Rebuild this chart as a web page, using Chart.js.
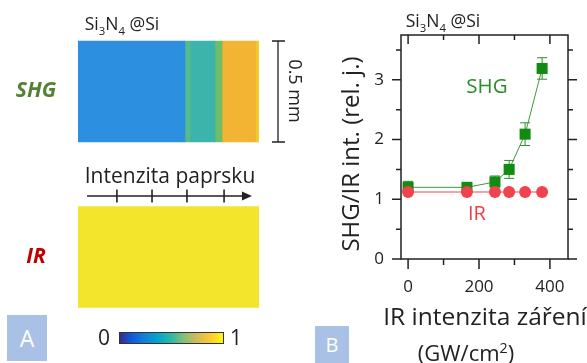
<!DOCTYPE html>
<html>
<head>
<meta charset="utf-8">
<script src="https://cdn.jsdelivr.net/npm/chart.js@4"></script>
<style>
  body { margin: 0; background: #fff; width: 587px; height: 363px; overflow: hidden; position: relative; font-family: "Open Sans", sans-serif; color: #222; }
  canvas { position: absolute; top: 0; }
  #mapChart { left: 0; }
  #ratioChart { left: 300px; }
  .t { position: absolute; white-space: nowrap; transform: translate(-50%, -50%); line-height: 1; }
  .box { position: absolute; background: #a9c1e4; color: #fff; display: flex; align-items: center; justify-content: center; }
  sub, sup { font-size: 65%; line-height: 0; }
</style>
</head>
<body>
<canvas id="mapChart" width="300" height="363"></canvas>
<canvas id="ratioChart" width="287" height="363"></canvas>

<div class="t" style="left:122px; top:24px; font-size:17.5px;">Si<sub>3</sub>N<sub>4</sub> @Si</div>
<div class="t" style="left:296px; top:91px; font-size:18px; transform: translate(-50%,-50%) rotate(90deg);">0.5 mm</div>
<div class="t" style="left:170px; top:175px; font-size:21px;">Intenzita paprsku</div>
<div class="t" style="left:104px; top:337px; font-size:21px;">0</div>
<div class="t" style="left:236px; top:337px; font-size:21px;">1</div>
<div class="box" style="left:7px; top:315px; width:40px; height:46px; font-size:23px;">A</div>
<div class="box" style="left:315px; top:326px; width:34px; height:37px; font-size:20px;">B</div>

<div class="t" style="left:443px; top:21px; font-size:17.5px;">Si<sub>3</sub>N<sub>4</sub> @Si</div>
<div class="t" style="left:350px; top:154px; font-size:24px; transform: translate(-50%,-50%) rotate(-90deg);">SHG/IR int. (rel. j.)</div>
<div class="t" style="left:485px; top:316px; font-size:24.5px;">IR intenzita záření</div>
<div class="t" style="left:466px; top:352px; font-size:22px;">(GW/cm<sup>2</sup>)</div>
<div class="t" style="left:487px; top:85px; font-size:20.5px; color:#2a8c2a;">SHG</div>
<div class="t" style="left:477px; top:213px; font-size:20px; color:#ee3d47;">IR</div>

<script>
// ---- Panel A: maps (fraction of beam path across the sample) ----
const rowLabels = ['SHG', 'IR'];
const shgStart = [0, 0.591, 0.619, 0.757, 0.796, 0.983];
const shgEnd   = [0.591, 0.619, 0.757, 0.796, 0.983, 1];
const shgColors = ['#2d8fe0', '#55ba8c', '#3db4ab', '#6fbd66', '#f3b433', '#f2cc2c'];
const irStart = [0];
const irEnd = [1];
const irColors = ['#f3e52b'];
const arrowTicks = [0.215, 0.409, 0.602, 0.807];
const parula = ['#352a87', '#0f5cdd', '#1481d6', '#06a4ca', '#2eb7a4', '#87bf77', '#d1bb59', '#fec832', '#f9fb0e'];

// ---- Panel B: SHG/IR ratio vs IR intensity ----
const intensity = [0, 166, 245, 285, 330, 378];
const shgRatio = [1.2, 1.2, 1.29, 1.5, 2.09, 3.19];
const shgErr = [0.1, 0.06, 0.1, 0.15, 0.19, 0.18];
const irRatio = [1.12, 1.12, 1.12, 1.12, 1.12, 1.12];
const xMajor = [0, 200, 400];
const xMinor = [100, 300];
const yMajor = [0, 1, 2, 3];
const yMinor = [0.5, 1.5, 2.5, 3.5];

const mapSets = [];
shgStart.forEach((s, i) => mapSets.push({ data: [[s, shgEnd[i]], null], backgroundColor: shgColors[i] }));
irStart.forEach((s, i) => mapSets.push({ data: [null, [s, irEnd[i]]], backgroundColor: irColors[i] }));

const mapDecor = {
  id: 'mapDecor',
  afterDraw(chart) {
    const { ctx, scales: { x, y } } = chart;
    const half = 101 / 2;
    ctx.save();
    // row labels
    ctx.font = 'italic bold 21px "Open Sans", sans-serif';
    ctx.textAlign = 'center';
    ctx.textBaseline = 'middle';
    ['#548235', '#c00000'].forEach((c, i) => {
      ctx.fillStyle = c;
      ctx.fillText(rowLabels[i], 36, y.getPixelForValue(i));
    });
    // scale bar next to SHG map
    const cy = y.getPixelForValue(0);
    ctx.strokeStyle = '#222';
    ctx.lineWidth = 1.3;
    ctx.beginPath();
    ctx.moveTo(278, cy - half); ctx.lineTo(278, cy + half);
    ctx.moveTo(272, cy - half); ctx.lineTo(285, cy - half);
    ctx.moveTo(272, cy + half); ctx.lineTo(285, cy + half);
    ctx.stroke();
    // beam arrow
    const ay = 196;
    const ax0 = x.getPixelForValue(0.05), ax1 = x.getPixelForValue(0.961);
    ctx.lineWidth = 1.6;
    ctx.beginPath();
    ctx.moveTo(ax0, ay); ctx.lineTo(ax1 - 8, ay);
    arrowTicks.forEach(f => {
      const tx = x.getPixelForValue(f);
      ctx.moveTo(tx, ay - 6.5); ctx.lineTo(tx, ay + 6.5);
    });
    ctx.stroke();
    ctx.fillStyle = '#222';
    ctx.beginPath();
    ctx.moveTo(ax1, ay); ctx.lineTo(ax1 - 10, ay - 4.5); ctx.lineTo(ax1 - 10, ay + 4.5);
    ctx.closePath(); ctx.fill();
    // colour bar
    const g = ctx.createLinearGradient(119, 0, 223, 0);
    parula.forEach((c, i) => g.addColorStop(i / (parula.length - 1), c));
    ctx.fillStyle = g;
    ctx.fillRect(119, 332, 104, 11);
    ctx.lineWidth = 1;
    ctx.strokeStyle = '#333';
    ctx.strokeRect(119.5, 332.5, 104, 11);
    ctx.restore();
  }
};

new Chart(document.getElementById('mapChart'), {
  type: 'bar',
  data: { labels: rowLabels, datasets: mapSets.map(d => ({ ...d, grouped: false, barThickness: 101, borderWidth: 0, borderSkipped: false })) },
  options: {
    indexAxis: 'y',
    responsive: false,
    animation: false,
    layout: { padding: { left: 78, right: 41, top: 8.75, bottom: 23.25 } },
    plugins: { legend: { display: false }, tooltip: { enabled: false } },
    scales: {
      x: { display: false, min: 0, max: 1 },
      y: { display: false }
    }
  },
  plugins: [mapDecor]
});

// error bars under the squares
const errorBars = {
  id: 'errorBars',
  beforeDatasetsDraw(chart) {
    const { ctx, scales: { x, y } } = chart;
    ctx.save();
    ctx.strokeStyle = '#2e8f2e';
    ctx.lineWidth = 1;
    intensity.forEach((v, i) => {
      const px = x.getPixelForValue(v);
      const top = y.getPixelForValue(shgRatio[i] + shgErr[i]);
      const bot = y.getPixelForValue(shgRatio[i] - shgErr[i]);
      ctx.beginPath();
      ctx.moveTo(px, top); ctx.lineTo(px, bot);
      ctx.moveTo(px - 5, top); ctx.lineTo(px + 5, top);
      ctx.moveTo(px - 5, bot); ctx.lineTo(px + 5, bot);
      ctx.stroke();
    });
    ctx.restore();
  }
};

// box frame, ticks on all sides, tick labels
const frame = {
  id: 'frame',
  afterDraw(chart) {
    const { ctx, chartArea: a, scales: { x, y } } = chart;
    ctx.save();
    ctx.strokeStyle = '#222';
    ctx.lineWidth = 1.5;
    ctx.strokeRect(a.left, a.top, a.right - a.left, a.bottom - a.top);
    ctx.beginPath();
    const tickX = (v, len) => {
      const px = x.getPixelForValue(v);
      ctx.moveTo(px, a.bottom); ctx.lineTo(px, a.bottom + len);
      ctx.moveTo(px, a.top); ctx.lineTo(px, a.top + len - 1);
    };
    const tickY = (v, len) => {
      const py = y.getPixelForValue(v);
      ctx.moveTo(a.left, py); ctx.lineTo(a.left - len, py);
      ctx.moveTo(a.right, py); ctx.lineTo(a.right + len, py);
    };
    xMajor.forEach(v => tickX(v, 10));
    xMinor.forEach(v => tickX(v, 6));
    yMajor.forEach(v => tickY(v, 9));
    yMinor.forEach(v => tickY(v, 5));
    ctx.stroke();
    ctx.fillStyle = '#222';
    ctx.font = '17px "Open Sans", sans-serif';
    ctx.textBaseline = 'middle';
    ctx.textAlign = 'center';
    xMajor.forEach(v => ctx.fillText(String(v), x.getPixelForValue(v), a.bottom + 28));
    ctx.textAlign = 'right';
    yMajor.forEach(v => ctx.fillText(String(v), a.left - 17, y.getPixelForValue(v)));
    ctx.restore();
  }
};

new Chart(document.getElementById('ratioChart'), {
  type: 'line',
  data: {
    datasets: [
      {
        label: 'IR',
        data: intensity.map((v, i) => ({ x: v, y: irRatio[i] })),
        borderColor: '#f5a3a6',
        borderWidth: 2,
        pointStyle: 'circle',
        pointRadius: 6,
        pointBackgroundColor: '#f0434e',
        pointBorderWidth: 0,
        tension: 0
      },
      {
        label: 'SHG',
        data: intensity.map((v, i) => ({ x: v, y: shgRatio[i] })),
        borderColor: '#3c9a3c',
        borderWidth: 1,
        pointStyle: 'rect',
        pointRadius: 7.8,
        pointBackgroundColor: '#118c11',
        pointBorderWidth: 0,
        tension: 0
      }
    ]
  },
  options: {
    responsive: false,
    animation: false,
    layout: { padding: { left: 101, right: 19, top: 35, bottom: 104 } },
    plugins: { legend: { display: false }, tooltip: { enabled: false } },
    scales: {
      x: { type: 'linear', display: false, min: -20, max: 451 },
      y: { type: 'linear', display: false, min: 0, max: 3.75 }
    }
  },
  plugins: [errorBars, frame]
});
</script>
</body>
</html>
